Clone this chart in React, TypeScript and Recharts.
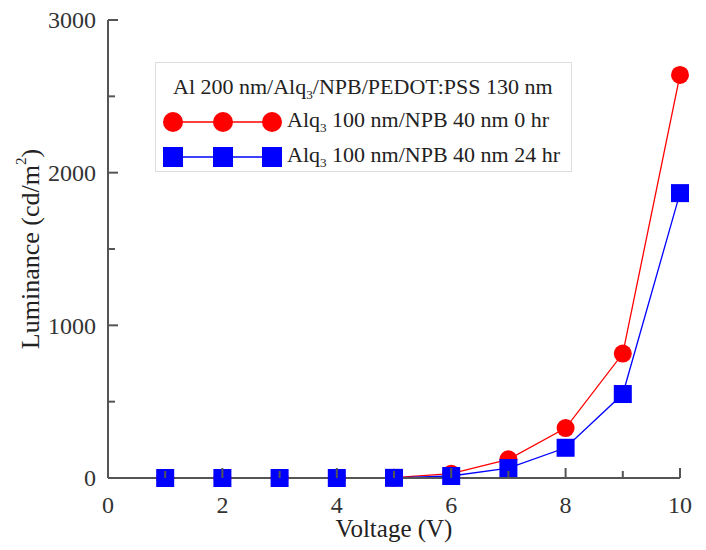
import { LineChart, Line, XAxis, YAxis, Legend } from 'recharts';

const voltage = [1, 2, 3, 4, 5, 6, 7, 8, 9, 10];
const lum0hr = [0, 0, 0, 0, 2, 28, 122, 327, 815, 2640];
const lum24hr = [0, 0, 0, 0, 1, 13, 65, 198, 550, 1866];

const xTicks = [0, 1, 2, 3, 4, 5, 6, 7, 8, 9, 10];
const yTicks = [0, 500, 1000, 1500, 2000, 2500, 3000];

const legendTitle = 'Al 200 nm/Alq';
const legendTitleRest = '/NPB/PEDOT:PSS 130 nm';
const seriesLabels = ['100 nm/NPB 40 nm 0 hr', '100 nm/NPB 40 nm 24 hr'];

const data = voltage.map((v, i) => ({ v, a: lum0hr[i], b: lum24hr[i] }));

const FONT = '"Liberation Serif", "Times New Roman", serif';
const AXIS = '#555';

// ticks point inward, labels only on major values
const XTick = (props: any) => {
  const { x, y, payload } = props;
  const major = payload.value % 2 === 0;
  return (
    <g>
      <line x1={x} x2={x} y1={y} y2={y - (major ? 10 : 7)} stroke={AXIS} strokeWidth={2} />
      {major && (
        <text x={x} y={y + 35} textAnchor="middle" fontFamily={FONT} fontSize={24} fill="#333">
          {payload.value}
        </text>
      )}
    </g>
  );
};

const YTick = (props: any) => {
  const { x, y, payload } = props;
  const major = payload.value % 1000 === 0;
  const ax = Number(x) + 12;
  return (
    <g>
      <line x1={ax} x2={ax + (major ? 10 : 7)} y1={y} y2={y} stroke={AXIS} strokeWidth={2} />
      {major && (
        <text x={x} y={y} dy="0.35em" textAnchor="end" fontFamily={FONT} fontSize={24} fill="#333">
          {payload.value}
        </text>
      )}
    </g>
  );
};

const Square = (props: any) => {
  const { cx, cy } = props;
  if (cx == null || cy == null) return null;
  return <rect x={cx - 9} y={cy - 9} width={18} height={18} fill="#0000ff" />;
};

const LegendIcon = ({ kind, color }: { kind: string; color: string }) => (
  <svg width={128} height={24} style={{ position: 'absolute', left: 4, top: 5 }}>
    <line x1={13} x2={112} y1={12} y2={12} stroke={color} strokeWidth={1.3} />
    {[13, 63, 112].map((c) =>
      kind === 'circle' ? (
        <circle key={c} cx={c} cy={12} r={10} fill={color} />
      ) : (
        <rect key={c} x={c - 10} y={2} width={20} height={20} fill={color} />
      )
    )}
  </svg>
);

const LegendBox = () => {
  const rows = [
    { kind: 'circle', color: '#ff0000', text: seriesLabels[0] },
    { kind: 'square', color: '#0000ff', text: seriesLabels[1] },
  ];
  return (
    <div
      style={{
        position: 'relative',
        width: 417,
        height: 110,
        border: '1px solid #ddd',
        background: '#fff',
        fontFamily: FONT,
        fontSize: 22,
        color: '#222',
        boxSizing: 'border-box',
      }}
    >
      <div style={{ position: 'absolute', left: 17, top: 9, whiteSpace: 'nowrap', lineHeight: '30px' }}>
        {legendTitle}
        <sub style={{ fontSize: '0.6em', lineHeight: 0 }}>3</sub>
        {legendTitleRest}
      </div>
      {rows.map((r, i) => (
        <div key={i} style={{ position: 'absolute', left: 0, top: 42 + i * 35, width: 417, height: 34 }}>
          <LegendIcon kind={r.kind} color={r.color} />
          <div style={{ position: 'absolute', left: 131, top: 0, whiteSpace: 'nowrap', lineHeight: '30px' }}>
            Alq<sub style={{ fontSize: '0.6em', lineHeight: 0 }}>3</sub> {r.text}
          </div>
        </div>
      ))}
    </div>
  );
};

export default function App() {
  return (
    <div style={{ position: 'absolute', left: 0, top: 0, background: '#fff' }}>
      <LineChart width={706} height={550} data={data} margin={{ top: 20, right: 26, bottom: 0, left: 0 }}>
        <XAxis
          dataKey="v"
          type="number"
          domain={[0, 10]}
          ticks={xTicks}
          interval={0}
          tickSize={0}
          tickMargin={0}
          tickLine={false}
          height={72}
          axisLine={{ stroke: AXIS, strokeWidth: 2 }}
          tick={<XTick />}
          label={{
            content: ({ viewBox }: any) => (
              <text
                x={viewBox.x + viewBox.width / 2}
                y={viewBox.y + 59}
                textAnchor="middle"
                fontFamily={FONT}
                fontSize={25}
                fill="#222"
              >
                Voltage (V)
              </text>
            ),
          }}
        />
        <YAxis
          type="number"
          domain={[0, 3000]}
          ticks={yTicks}
          interval={0}
          tickSize={0}
          tickMargin={12}
          tickLine={false}
          width={108}
          axisLine={{ stroke: AXIS, strokeWidth: 2 }}
          tick={<YTick />}
          label={{
            content: ({ viewBox }: any) => {
              const cx = viewBox.x + 30;
              const cy = viewBox.y + viewBox.height / 2;
              return (
                <text
                  x={cx}
                  y={cy}
                  transform={`rotate(-90 ${cx} ${cy})`}
                  textAnchor="middle"
                  dominantBaseline="central"
                  fontFamily={FONT}
                  fontSize={26}
                  fill="#222"
                >
                  Luminance (cd/m
                  <tspan fontSize={15} dy={-9}>2</tspan>
                  <tspan dy={9}>)</tspan>
                </text>
              );
            },
          }}
        />
        <Legend
          layout="vertical"
          align="center"
          verticalAlign="middle"
          content={() => <LegendBox />}
          wrapperStyle={{ position: 'absolute', left: 155, top: 62, width: 417, height: 110 }}
        />
        <Line
          dataKey="a"
          stroke="#ff0000"
          strokeWidth={1.3}
          dot={{ r: 9, fill: '#ff0000', stroke: 'none' }}
          activeDot={false}
          isAnimationActive={false}
        />
        <Line
          dataKey="b"
          stroke="#0000ff"
          strokeWidth={1.3}
          dot={<Square />}
          activeDot={false}
          isAnimationActive={false}
        />
      </LineChart>
    </div>
  );
}
